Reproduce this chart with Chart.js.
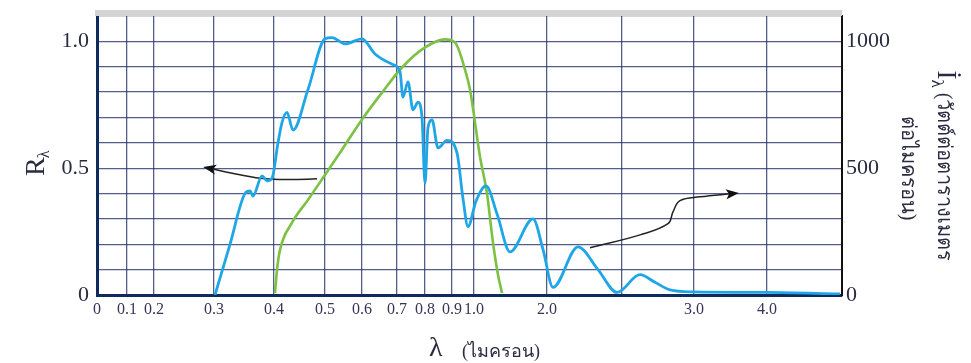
<!DOCTYPE html>
<html>
<head>
<meta charset="utf-8">
<script src="https://cdn.jsdelivr.net/npm/chart.js@4.4.2/dist/chart.umd.min.js"></script>
<style>
  html, body { margin: 0; padding: 0; background: #fff; }
  canvas { display: block; }
</style>
</head>
<body>
<canvas id="chart" width="971" height="363"></canvas>
<script>
// x axis is not linear in wavelength, so everything is placed in "axis position" units
const tickPos = [0, 30, 57, 117, 177, 228, 265, 300, 328, 355, 377, 450, 525, 597, 670];
const tickLabels = ['0', '0.1', '0.2', '0.3', '0.4', '0.5', '0.6', '0.7', '0.8', '0.9', '1.0', '2.0', '', '3.0', '4.0'];
const rGrid = [0, 0.1, 0.2, 0.3, 0.4, 0.5, 0.6, 0.7, 0.8, 0.9, 1.0, 1.1];
const rLabels = ['0', '', '', '', '', '0.5', '', '', '', '', '1.0', ''];
const iTicks = [0, 500, 1000];

// spectral response R (left axis)
const respPos = [118, 133, 148, 153, 156, 165, 170, 175, 181, 185, 190, 196, 211, 228, 235, 248, 265, 278, 295, 303,
  306, 311, 316, 321, 325, 328, 331, 335, 341, 350, 360, 366, 371, 379, 389, 400, 413, 436, 446,
  456, 481, 501, 520, 543, 558, 573, 596, 670, 743];
const respVal = [0, 0.20, 0.40, 0.41, 0.39, 0.47, 0.45, 0.46, 0.60, 0.68, 0.72, 0.65, 0.81, 1.01, 1.015, 0.99, 1.01, 0.95, 0.91, 0.88,
  0.78, 0.84, 0.73, 0.76, 0.70, 0.44, 0.66, 0.69, 0.58, 0.61, 0.56, 0.38, 0.27, 0.37, 0.43, 0.32, 0.17, 0.30, 0.18,
  0.03, 0.19, 0.10, 0.01, 0.08, 0.05, 0.02, 0.012, 0.01, 0.004];

// solar irradiance I (right axis)
const irrPos = [178, 180, 183, 195, 211, 226, 245, 265, 285, 305, 328, 348, 358, 368, 373, 383, 390, 396, 401, 405];
const irrVal = [8, 99, 178, 285, 375, 462, 573, 692, 798, 897, 976, 1008, 996, 889, 810, 545, 400, 206, 80, 8];

// annotation arrows (left axis units)
const arrowLeftPos = [220, 193, 168, 143, 112];
const arrowLeftVal = [0.458, 0.455, 0.458, 0.474, 0.500];
const arrowRightPos = [493, 543, 571, 576, 583, 603, 636];
const arrowRightVal = [0.186, 0.237, 0.281, 0.328, 0.372, 0.387, 0.400];

const serif = '"Liberation Serif", "DejaVu Serif", serif';
const textColor = '#2a2a40';
const navy = '#0f2a5c';
const gridColor = 'rgba(35, 50, 105, 0.78)';

function pts(xs, ys) {
  return xs.map((x, i) => ({x: x, y: ys[i]}));
}

const arrowHeads = {
  id: 'arrowHeads',
  afterDatasetsDraw(chart) {
    const ctx = chart.ctx;
    chart.data.datasets.forEach((ds, i) => {
      if (!ds.arrow) {
        return;
      }
      const els = chart.getDatasetMeta(i).data;
      const a = els[els.length - 2];
      const b = els[els.length - 1];
      const ang = Math.atan2(b.y - a.y, b.x - a.x);
      ctx.save();
      ctx.translate(b.x, b.y);
      ctx.rotate(ang);
      ctx.fillStyle = '#111';
      ctx.beginPath();
      ctx.moveTo(6, 0);
      ctx.lineTo(-7, -5);
      ctx.lineTo(-4, 0);
      ctx.lineTo(-7, 5);
      ctx.closePath();
      ctx.fill();
      ctx.restore();
    });
  }
};

const titles = {
  id: 'titles',
  afterDraw(chart) {
    const ctx = chart.ctx;
    const area = chart.chartArea;
    ctx.save();
    // grey band along the top
    ctx.fillStyle = '#d4d4d4';
    ctx.fillRect(area.left - 2, area.top - 6, area.right - area.left + 2, 6);

    ctx.fillStyle = textColor;
    ctx.textBaseline = 'alphabetic';

    // left title R_lambda
    ctx.save();
    ctx.translate(44, 176);
    ctx.rotate(-Math.PI / 2);
    ctx.font = '28px ' + serif;
    ctx.textAlign = 'left';
    ctx.fillText('R', 0, 0);
    const rw = ctx.measureText('R').width;
    ctx.font = '16px ' + serif;
    ctx.fillText('λ', rw - 1, 5);
    ctx.restore();

    // bottom title
    ctx.font = '28px ' + serif;
    ctx.textAlign = 'left';
    ctx.fillText('λ', 429, 356);
    ctx.font = '18px ' + serif;
    ctx.fillText('(ไมครอน)', 462, 357);

    // right title, rotated clockwise
    ctx.save();
    ctx.translate(938, 166);
    ctx.rotate(Math.PI / 2);
    ctx.font = '27px ' + serif;
    const iw = ctx.measureText('İ').width;
    ctx.font = '17px ' + serif;
    const lw = ctx.measureText('λ').width;
    ctx.font = '20px ' + serif;
    const rest = ' (วัตต์ต่อตารางเมตร';
    const restW = ctx.measureText(rest).width;
    const x0 = -(iw + lw + restW) / 2;
    ctx.font = '27px ' + serif;
    ctx.fillText('İ', x0, 0);
    ctx.font = '17px ' + serif;
    ctx.fillText('λ', x0 + iw, 6);
    ctx.font = '20px ' + serif;
    ctx.fillText(rest, x0 + iw + lw, 0);
    ctx.textAlign = 'center';
    ctx.fillText('ต่อไมครอน)', 2, 36);
    ctx.restore();

    ctx.restore();
  }
};

function fixWidth(w) {
  return s => {
    s.width = w;
    s.paddingTop = 0;
    s.paddingBottom = 0;
  };
}

new Chart(document.getElementById('chart'), {
  type: 'line',
  data: {
    datasets: [
      {
        label: 'R',
        data: pts(respPos, respVal),
        yAxisID: 'y',
        borderColor: '#1ea6e6',
        borderWidth: 2.8,
        cubicInterpolationMode: 'monotone'
      },
      {
        label: 'I',
        data: pts(irrPos, irrVal),
        yAxisID: 'y2',
        borderColor: '#7cc142',
        borderWidth: 2.6,
        cubicInterpolationMode: 'monotone'
      },
      {
        label: 'arrow1',
        data: pts(arrowLeftPos, arrowLeftVal),
        yAxisID: 'y',
        borderColor: '#222',
        borderWidth: 1.5,
        tension: 0.4,
        arrow: true
      },
      {
        label: 'arrow2',
        data: pts(arrowRightPos, arrowRightVal),
        yAxisID: 'y',
        borderColor: '#222',
        borderWidth: 1.5,
        tension: 0.4,
        arrow: true
      }
    ]
  },
  options: {
    responsive: false,
    animation: false,
    layout: {padding: {top: 16, left: 0, right: 0, bottom: 0}},
    elements: {point: {radius: 0}},
    plugins: {legend: {display: false}, tooltip: {enabled: false}},
    scales: {
      x: {
        type: 'linear',
        min: 0,
        max: 745,
        afterBuildTicks: s => {
          s.ticks = tickPos.map(v => ({value: v}));
        },
        afterFit: s => {
          s.height = 68;
          s.paddingLeft = 0;
          s.paddingRight = 0;
        },
        ticks: {
          autoSkip: false,
          maxRotation: 0,
          padding: 5,
          color: '#3a3356',
          font: {family: serif, size: 16},
          callback: (v, i) => tickLabels[i]
        },
        grid: {color: gridColor, lineWidth: 1.3, drawTicks: false},
        border: {color: navy, width: 3}
      },
      y: {
        position: 'left',
        min: 0,
        max: 1.1,
        afterBuildTicks: s => {
          s.ticks = rGrid.map(v => ({value: v}));
        },
        afterFit: fixWidth(97),
        ticks: {
          autoSkip: false,
          padding: 8,
          color: textColor,
          font: {family: serif, size: 22},
          callback: (v, i) => rLabels[i]
        },
        grid: {color: gridColor, lineWidth: 1.3, drawTicks: false},
        border: {color: navy, width: 3}
      },
      y2: {
        position: 'right',
        min: 0,
        max: 1100,
        afterBuildTicks: s => {
          s.ticks = iTicks.map(v => ({value: v}));
        },
        afterFit: fixWidth(129),
        ticks: {
          autoSkip: false,
          padding: 4,
          color: textColor,
          font: {family: serif, size: 22},
          callback: v => String(v)
        },
        grid: {drawOnChartArea: false, drawTicks: false},
        border: {color: '#111', width: 2}
      }
    }
  },
  plugins: [arrowHeads, titles]
});
</script>
</body>
</html>
